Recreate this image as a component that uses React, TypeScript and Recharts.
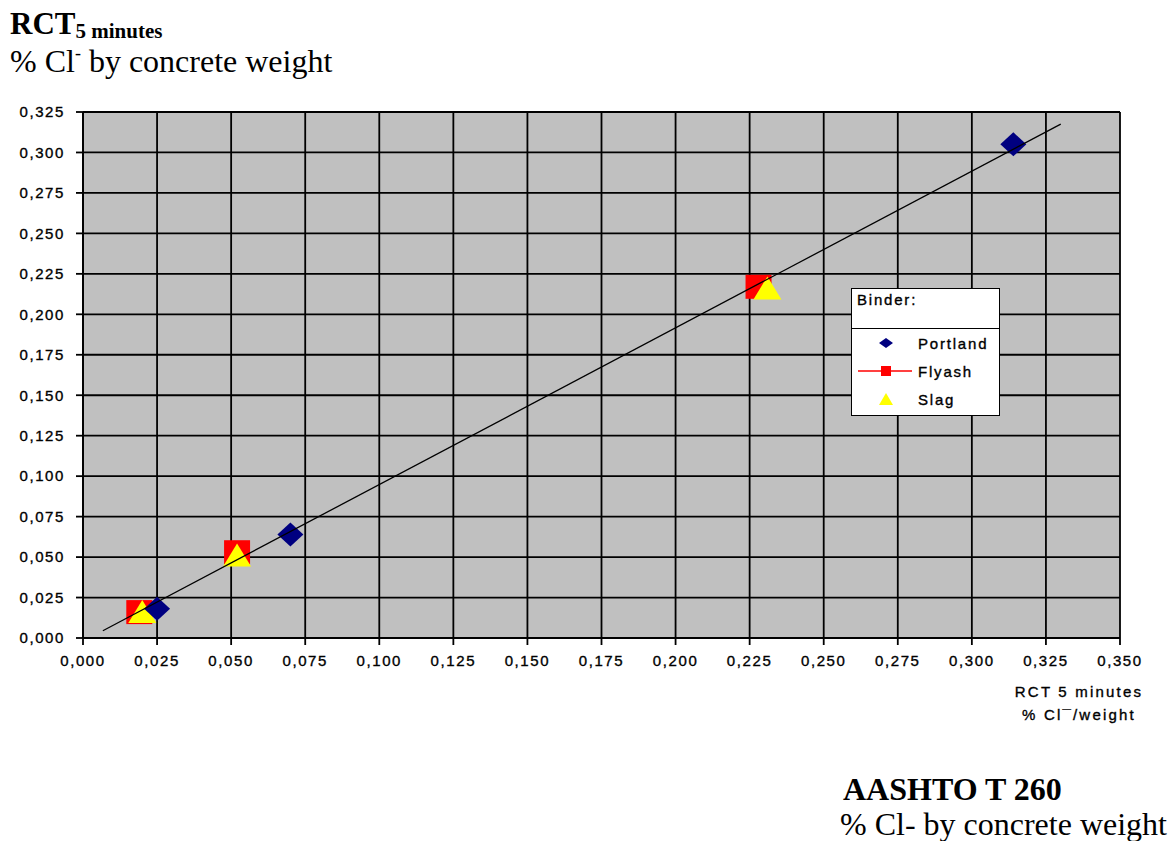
import {
  CartesianGrid,
  Scatter,
  ScatterChart,
  XAxis,
  YAxis,
} from 'recharts'

// values
const portlandX = [0.025, 0.07, 0.314]
const portlandY = [0.018, 0.064, 0.305]
const flyashX = [0.019, 0.052, 0.228]
const flyashY = [0.016, 0.053, 0.217]
const slagX = [0.02, 0.052, 0.231]
const slagY = [0.016, 0.051, 0.216]
const trendX = [0.0067, 0.33]
const trendY = [0.0045, 0.3175]
const xTicks = [0, 0.025, 0.05, 0.075, 0.1, 0.125, 0.15, 0.175, 0.2, 0.225, 0.25, 0.275, 0.3, 0.325, 0.35]
const yTicks = [0, 0.025, 0.05, 0.075, 0.1, 0.125, 0.15, 0.175, 0.2, 0.225, 0.25, 0.275, 0.3, 0.325]

const zip = (xs: number[], ys: number[]) => xs.map((x, i) => ({ x, y: ys[i] }))
const portland = zip(portlandX, portlandY)
const flyash = zip(flyashX, flyashY)
const slag = zip(slagX, slagY)
const trend = zip(trendX, trendY)

const sans = '"Liberation Sans", Arial, sans-serif'
const serif = '"Liberation Serif", "Times New Roman", serif'
const tickStyle = {
  fill: '#000',
  stroke: '#000',
  strokeWidth: 0.35,
  fontSize: 15,
  fontFamily: sans,
  letterSpacing: 1.6,
}
const fmt = (v: number) => v.toFixed(3).replace('.', ',')

const Diamond = ({ cx, cy }: any) => (
  <polygon
    points={`${cx - 13},${cy} ${cx},${cy - 12} ${cx + 13},${cy} ${cx},${cy + 12}`}
    fill="#000080"
  />
)
const Square = ({ cx, cy }: any) => (
  <rect x={cx - 13} y={cy - 12} width={26} height={24} fill="#ff0000" />
)
const Triangle = ({ cx, cy }: any) => (
  <polygon
    points={`${cx},${cy - 12} ${cx + 14},${cy + 11} ${cx - 14},${cy + 11}`}
    fill="#ffff00"
  />
)

function BinderLegend() {
  const row = { display: 'flex', alignItems: 'center', height: 28 }
  const label = {
    fontFamily: sans,
    fontSize: 15,
    letterSpacing: 1.8,
    color: '#000',
    WebkitTextStroke: '0.35px #000',
  }
  return (
    <div
      style={{
        position: 'absolute',
        left: 851,
        top: 288,
        width: 149,
        boxSizing: 'border-box',
        border: '1.5px solid #000',
        background: '#fff',
      }}
    >
      <div style={{ ...label, height: 40, padding: '2px 0 0 5px', borderBottom: '1.5px solid #000', boxSizing: 'border-box' }}>
        Binder:
      </div>
      <div style={{ paddingBottom: 2 }}>
        <div style={row}>
          <svg width={66} height={20}>
            <polygon points="27,10 34,5 41,10 34,15" fill="#000080" />
          </svg>
          <span style={label}>Portland</span>
        </div>
        <div style={row}>
          <svg width={66} height={20}>
            <line x1={6} x2={60} y1={10} y2={10} stroke="#ff0000" strokeWidth={1.5} />
            <rect x={29} y={5} width={10} height={10} fill="#ff0000" />
          </svg>
          <span style={label}>Flyash</span>
        </div>
        <div style={row}>
          <svg width={66} height={20}>
            <polygon points="34,4 41,16 27,16" fill="#ffff00" />
          </svg>
          <span style={label}>Slag</span>
        </div>
      </div>
    </div>
  )
}

export default function App() {
  return (
    <div style={{ position: 'absolute', left: 0, top: 0, width: 1173, height: 841, background: '#fff' }}>
      <ScatterChart
        width={1173}
        height={700}
        margin={{ top: 112, right: 53, bottom: 32, left: 0 }}
      >
        <CartesianGrid stroke="#000" strokeWidth={1.8} fill="#c0c0c0" />
        <XAxis
          type="number"
          dataKey="x"
          domain={[0, 0.35]}
          ticks={xTicks}
          tickFormatter={fmt}
          tick={tickStyle}
          tickSize={7}
          tickMargin={10}
          height={30}
          axisLine={{ stroke: '#000', strokeWidth: 1.8 }}
          tickLine={{ stroke: '#000', strokeWidth: 1.8 }}
          interval={0}
        />
        <YAxis
          type="number"
          dataKey="y"
          domain={[0, 0.325]}
          ticks={yTicks}
          tickFormatter={fmt}
          tick={tickStyle}
          tickSize={7}
          tickMargin={11}
          width={83}
          axisLine={{ stroke: '#000', strokeWidth: 1.8 }}
          tickLine={{ stroke: '#000', strokeWidth: 1.8 }}
          interval={0}
        />
        <Scatter name="Flyash" data={flyash} shape={Square} isAnimationActive={false} />
        <Scatter name="Slag" data={slag} shape={Triangle} isAnimationActive={false} />
        <Scatter name="Portland" data={portland} shape={Diamond} isAnimationActive={false} />
        <Scatter
          name="trend"
          data={trend}
          line={{ stroke: '#000', strokeWidth: 1.3 }}
          shape={() => <g />}
          legendType="none"
          isAnimationActive={false}
        />
      </ScatterChart>
      <BinderLegend />
      <svg
        width={1173}
        height={841}
        style={{ position: 'absolute', left: 0, top: 0, pointerEvents: 'none' }}
      >
        <text x={10} y={34} fontFamily={serif} fontWeight="bold" fontSize={31}>
          RCT
          <tspan fontSize={21} dy={4}>5 minutes</tspan>
        </text>
        <text x={10} y={72} fontFamily={serif} fontSize={32}>
          % Cl
          <tspan fontSize={18} dy={-13}>-</tspan>
          <tspan dy={13}> by concrete weight</tspan>
        </text>
        <g fontFamily={sans} fontSize={15} letterSpacing={2.2} textAnchor="middle" stroke="#000" strokeWidth={0.35}>
          <text x={1079} y={697}>RCT 5 minutes</text>
          <text x={1079} y={720}>% Cl¯/weight</text>
        </g>
        <text x={843} y={800} fontFamily={serif} fontWeight="bold" fontSize={32}>
          AASHTO T 260
        </text>
        <text x={840} y={835} fontFamily={serif} fontSize={32}>
          % Cl- by concrete weight
        </text>
      </svg>
    </div>
  )
}
